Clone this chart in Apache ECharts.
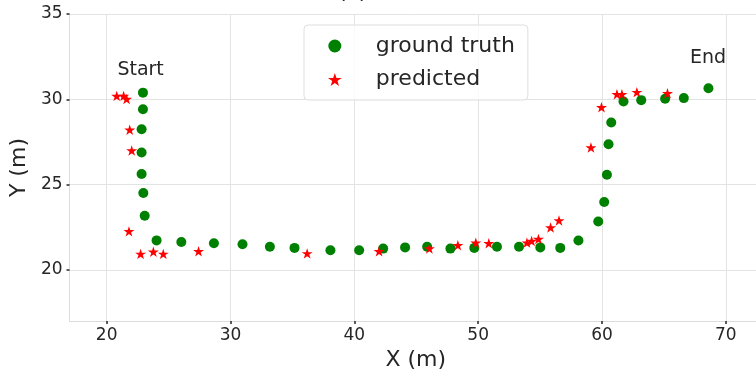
<!DOCTYPE html>
<html>
<head>
<meta charset="utf-8">
<script src="https://cdn.jsdelivr.net/npm/echarts@6/dist/echarts.min.js"></script>
<style>
html,body{margin:0;padding:0;background:#fff;}
#chart{width:756px;height:376px;}
</style>
</head>
<body>
<div id="chart"></div>
<script>
// Ground truth trajectory (X, Y in metres)
const gtX = [22.93,22.93,22.82,22.82,22.82,22.96,23.07,24.03,26.03,28.66,30.97,33.18,35.17,38.07,40.39,42.33,44.10,45.88,47.76,49.69,51.52,53.30,55.02,56.63,58.10,59.70,60.18,60.40,60.53,60.75,61.74,63.17,65.10,66.61,68.60];
const gtY = [30.39,29.42,28.25,26.88,25.62,24.51,23.18,21.73,21.64,21.56,21.50,21.36,21.29,21.15,21.15,21.25,21.32,21.36,21.25,21.29,21.36,21.36,21.32,21.29,21.72,22.84,23.98,25.58,27.37,28.64,29.87,29.95,30.03,30.07,30.65];
// Predicted trajectory
const prX = [20.81,21.37,21.61,21.86,22.02,21.80,22.74,23.77,24.57,27.42,36.19,42.00,46.06,48.36,49.81,50.86,53.94,54.32,54.87,55.85,56.53,59.11,59.96,61.21,61.61,62.82,65.29];
const prY = [30.20,30.20,30.02,28.21,27.00,22.26,20.94,21.07,20.94,21.09,20.97,21.09,21.26,21.45,21.59,21.56,21.60,21.69,21.81,22.48,22.90,27.18,29.54,30.30,30.30,30.42,30.36];
// Tick labels
const xTicks = [20,30,40,50,60,70];
const yTicks = [20,25,30,35];
// Annotations
const annoText = ['Start','End'];
const annoX = [22.74,68.56];
const annoY = [31.71,32.44];

const STAR = 'path://M0,-10L2.245,-3.09L9.511,-3.09L3.633,1.18L5.878,8.09L0,3.82L-5.878,8.09L-3.633,1.18L-9.511,-3.09L-2.245,-3.09Z';
const FONT = 'DejaVu Sans';
const TXT = '#262626';

const gtData = gtX.map((x,i)=>[x,gtY[i]]);
const prData = prX.map((x,i)=>[x,prY[i]]);

const chart = echarts.init(document.getElementById('chart'), null, {renderer:'canvas'});
chart.setOption({
  animation:false,
  backgroundColor:'#fff',
  textStyle:{fontFamily:FONT},
  graphic:[{
    type:'text', left:338, top:-19,
    style:{text:'(c)', font:'22px "DejaVu Sans"', fill:TXT}
  }],
  grid:{left:68.3, top:14, right:0, bottom:54.3, containLabel:false},
  legend:{
    left:304, top:25, orient:'vertical',
    padding:[10,13,9.5,24],
    itemWidth:24, itemHeight:13, itemGap:11.5,
    backgroundColor:'rgba(255,255,255,0.8)',
    borderColor:'#dedede', borderWidth:1, borderRadius:4,
    textStyle:{fontFamily:FONT, fontSize:22, color:TXT, lineHeight:22, padding:[0,0,0,24]},
    data:['ground truth','predicted']
  },
  xAxis:{
    type:'value', min:17, max:72.44,
    name:'X (m)', nameLocation:'middle', nameGap:25,
    nameTextStyle:{fontFamily:FONT, fontSize:22, color:TXT, padding:[0,0,0,6]},
    axisLine:{show:true, onZero:false, lineStyle:{color:'#dcdcdc', width:1}},
    axisTick:{show:true, customValues:xTicks, length:3, lineStyle:{color:TXT, width:1.5}},
    axisLabel:{customValues:xTicks, fontFamily:FONT, fontSize:17, color:TXT, margin:6},
    splitLine:{show:true, lineStyle:{color:'#e3e3e3', width:1}}
  },
  yAxis:{
    type:'value', min:17, max:35,
    name:'Y (m)', nameLocation:'middle', nameGap:35,
    nameTextStyle:{fontFamily:FONT, fontSize:22, color:TXT},
    axisLine:{show:true, onZero:false, lineStyle:{color:'#dcdcdc', width:1}},
    axisTick:{show:true, customValues:yTicks, length:3, lineStyle:{color:TXT, width:1.5}},
    axisLabel:{customValues:yTicks, fontFamily:FONT, fontSize:17, color:TXT, margin:7},
    splitLine:{show:true, lineStyle:{color:'#e3e3e3', width:1}}
  },
  series:[
    {
      name:'ground truth', type:'scatter', data:gtData,
      symbol:'circle', symbolSize:10,
      itemStyle:{color:'#008000', opacity:1},
      markPoint:{
        symbol:'circle', symbolSize:0, silent:true,
        label:{show:true, position:'inside', fontFamily:FONT, fontSize:19, color:TXT, formatter:p=>p.name},
        data:annoText.map((t,i)=>({name:t, coord:[annoX[i],annoY[i]]}))
      },
      z:2
    },
    {
      name:'predicted', type:'scatter', data:prData,
      symbol:STAR, symbolSize:11, symbolKeepAspect:true,
      itemStyle:{color:'#ff0000', opacity:1},
      z:3
    }
  ]
});
</script>
</body>
</html>
